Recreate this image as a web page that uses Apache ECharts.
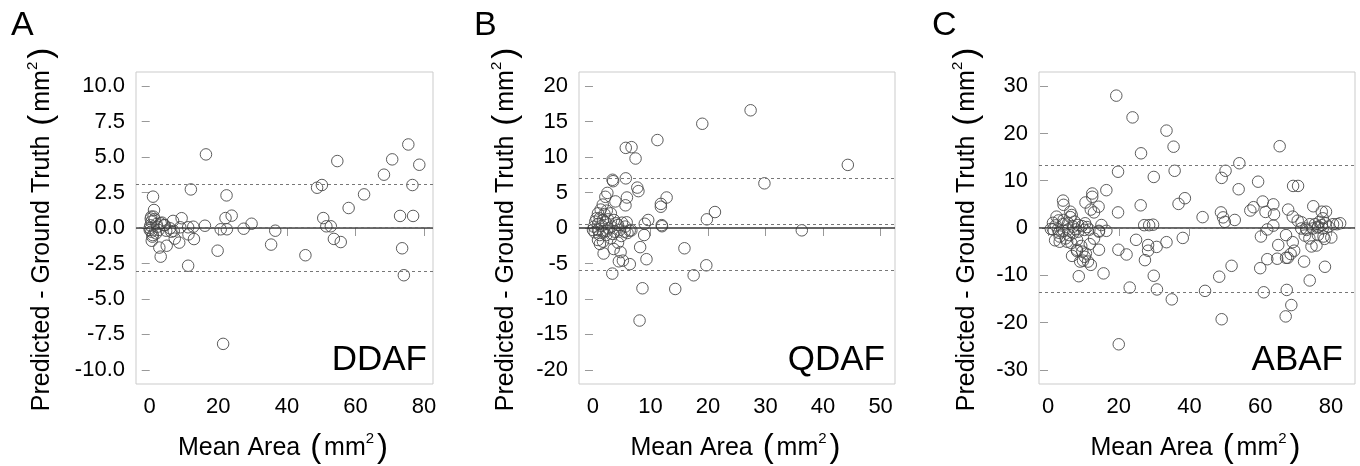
<!DOCTYPE html>
<html>
<head>
<meta charset="utf-8">
<script src="https://cdn.jsdelivr.net/npm/echarts@6/dist/echarts.min.js"></script>
<style>
  html, body { margin: 0; padding: 0; background: #fff; }
  #main { width: 1360px; height: 466px; }
</style>
</head>
<body>
<div id="main"></div>
<script>
// Bland-Altman style points: [mean area, predicted - ground truth]
var ddafPoints = [
  [0.0, 0.0], [0.2, 0.19], [0.0, -0.14], [0.3, 0.66], [0.47, 0.8], [0.5, 0.45], [0.6, -0.9],
  [0.47, -0.26], [0.77, -0.61], [0.9, -0.5], [0.96, 2.21], [1.1, 0.8], [1.25, 1.27], [1.45, 0.61],
  [1.85, -0.38], [2.0, 0.28], [2.2, 0.09], [2.6, -0.14], [2.8, -1.38], [3.2, 0.33], [3.2, -2.02],
  [3.6, 0.38], [4.2, 0.21], [4.4, 0.19], [4.8, -0.19], [4.95, -1.25], [5.9, -0.02], [6.3, -0.26],
  [6.8, 0.5], [7.0, -0.21], [7.3, -0.75], [8.6, -1.03], [8.9, 0.05], [9.3, 0.69], [11.2, 0.05],
  [11.3, -0.45], [11.2, -2.66], [12.0, 2.72], [12.7, 0.09], [12.9, -0.78], [16.1, 0.16], [16.4, 5.19],
  [19.8, -1.6], [20.7, -0.09], [21.4, -8.17], [22.1, 0.7], [22.4, 2.3], [22.5, -0.09], [23.9, 0.87],
  [27.4, -0.05], [29.7, 0.3], [35.4, -1.17], [36.6, -0.19], [45.4, -1.92], [48.8, 2.84], [50.2, 3.03],
  [50.6, 0.7], [51.5, 0.12], [52.8, 0.12], [53.7, -0.77], [54.7, 4.72], [55.7, -0.99], [58.0, 1.41],
  [62.5, 2.37], [68.3, 3.76], [70.7, 4.84], [73.0, 0.85], [73.6, -1.43], [74.1, -3.33], [75.4, 5.89],
  [76.6, 3.03], [76.8, 0.85], [78.6, 4.46]
];

var qdafPoints = [
  [27.4, 16.6], [19.0, 14.7], [11.2, 12.4], [5.7, 11.3], [6.7, 11.4], [7.4, 9.8], [44.3, 8.9],
  [3.4, 6.8], [3.5, 6.6], [5.7, 7.0], [29.8, 6.3], [7.7, 5.7], [7.9, 5.2], [2.5, 4.95], [2.15, 4.4],
  [5.9, 4.3], [12.8, 4.3], [3.9, 3.75], [11.8, 3.4], [11.8, 3.0], [5.65, 3.2], [1.7, 3.3], [1.34, 2.6],
  [2.4, 2.45], [0.87, 2.07], [2.0, 1.97], [3.1, 2.07], [21.2, 2.25], [19.8, 1.22], [9.6, 1.13],
  [9.0, 0.6], [5.86, 0.8], [11.95, 0.4], [12.0, 0.25], [36.3, -0.33], [6.67, -0.33], [8.9, -0.99],
  [8.2, -2.7], [15.9, -2.86], [9.3, -4.4], [4.8, -3.4], [4.5, -4.7], [5.2, -4.6], [6.4, -5.1],
  [19.7, -5.26], [17.5, -6.67], [3.36, -6.43], [8.6, -8.5], [14.3, -8.6], [8.1, -13.05], [1.85, -3.6],
  [3.6, -2.96], [1.2, -2.25], [0.6, 1.36], [1.17, 1.36], [1.74, 1.13], [2.6, 1.22], [3.65, 1.13],
  [4.07, 0.66], [5.04, 0.75], [0.17, 0.19], [0.9, 0.57], [2.15, 0.8], [3.2, 0.19], [4.35, 0.42],
  [0.0, -0.28], [0.87, -0.28], [1.74, -0.52], [2.73, -0.05], [3.77, -0.52], [4.64, -0.28], [5.5, -0.52],
  [6.38, -0.38], [1.17, -0.99], [2.33, -0.99], [3.48, -0.85], [4.94, -1.13], [0.87, -1.69],
  [1.74, -1.92], [3.08, -1.46], [4.35, -2.07], [0.4, 0.9], [1.5, 0.3], [2.4, -0.4], [5.6, 0.2],
  [0.3, -0.6], [6.0, -0.7]
];

var abafPoints = [
  [19.3, 28.0], [23.9, 23.4], [33.5, 20.6], [35.5, 17.2], [65.5, 17.3], [26.3, 15.8], [54.1, 13.7],
  [19.8, 11.9], [35.8, 12.1], [50.2, 12.1], [49.1, 10.6], [29.9, 10.8], [59.4, 9.8], [69.3, 8.9],
  [70.7, 8.9], [16.5, 8.0], [53.9, 8.2], [12.5, 7.3], [12.5, 6.6], [38.7, 6.3], [36.9, 5.1], [60.7, 5.6],
  [10.6, 5.4], [63.7, 5.0], [75.0, 4.6], [58.1, 4.4], [57.2, 3.7], [26.2, 4.8], [14.3, 4.5], [12.1, 3.9],
  [13.0, 3.3], [67.9, 3.9], [61.5, 3.4], [63.9, 2.9], [48.9, 3.3], [49.5, 2.25], [50.0, 1.3], [19.8, 3.3],
  [43.7, 2.3], [52.8, 1.7], [69.2, 2.4], [70.6, 1.55], [15.1, 0.63], [27.2, 0.6], [28.6, 0.6], [29.7, 0.7],
  [63.7, 0.5], [62.0, -0.3], [16.5, -0.6], [38.1, -2.1], [24.9, -2.5], [60.2, -1.8], [33.5, -3.0],
  [28.3, -3.6], [28.3, -4.8], [30.7, -4.0], [65.1, -3.6], [67.3, -1.5], [69.2, -3.0], [69.6, -4.8],
  [68.6, -5.5], [14.4, -4.6], [19.9, -4.6], [22.2, -5.6], [27.4, -6.8], [62.0, -6.6], [64.8, -6.5],
  [67.3, -6.3], [67.8, -6.3], [72.4, -7.1], [60.0, -8.5], [51.9, -8.0], [78.3, -8.2], [15.7, -9.6],
  [8.7, -10.2], [29.9, -10.1], [48.4, -10.3], [74.0, -11.1], [23.1, -12.6], [30.8, -13.0], [44.4, -13.3],
  [61.0, -13.6], [67.5, -13.1], [35.0, -15.1], [68.8, -16.3], [67.2, -18.7], [49.1, -19.3], [20.0, -24.6],
  [9.4, -3.8], [9.9, -6.9], [9.1, -7.1], [12.1, -7.8], [11.3, -7.1], [10.4, -6.1], [10.7, -5.4],
  [6.8, -5.9], [8.2, -4.6], [11.8, -3.4], [13.0, -2.25], [14.4, -0.6], [4.25, 5.8], [4.4, 4.9],
  [1.4, 1.1], [2.2, 0.56], [1.4, -0.28], [2.8, -0.28], [3.1, -1.0], [3.3, -1.8], [3.3, -2.9], [4.4, 1.7],
  [4.2, 0.8], [4.4, -0.56], [5.0, -2.2], [5.4, -2.9], [6.3, 3.45], [6.7, 2.75], [6.3, 2.3], [5.7, 1.0],
  [7.1, 0.28], [7.1, -1.1], [6.6, -3.2], [7.55, 1.34], [8.5, 0.63], [8.5, -0.77], [8.2, -2.5],
  [8.2, -4.9], [9.7, -5.0], [10.5, 1.0], [11.0, 0.2], [11.7, -0.35], [9.6, 0.4], [14.4, -0.77],
  [2.4, 2.4], [5.7, -0.3], [3.0, 1.6], [0.8, -0.2], [2.0, -2.6], [6.0, -1.5], [7.8, -0.3], [10.3, -0.4],
  [77.4, 3.45], [78.6, 3.45], [77.7, 2.05], [71.7, 1.2], [74.0, 0.8], [75.5, 0.8], [76.7, 1.3],
  [77.4, 0.6], [78.4, 1.0], [79.3, 0.3], [80.6, 0.8], [81.7, 0.8], [82.6, 1.0], [71.6, -0.1],
  [73.0, -0.1], [74.9, -0.1], [76.3, 0.1], [77.7, -0.1], [72.6, -1.6], [73.9, -2.2], [76.3, -1.5],
  [77.9, -1.8], [78.2, -2.3], [80.1, -2.0], [74.5, -3.9], [75.9, -3.7], [73.1, -0.4], [76.4, 0.3]
];

// mean difference and limits of agreement: [mean, upper, lower]
var ddafLimits = [0.05, 3.12, -3.03];
var qdafLimits = [0.5, 6.95, -5.95];
var abafLimits = [-0.15, 13.2, -13.5];

var ddafXTicks = [0, 20, 40, 60, 80];
var ddafYTicks = [-10, -7.5, -5, -2.5, 0, 2.5, 5, 7.5, 10];
var qdafXTicks = [0, 10, 20, 30, 40, 50];
var qdafYTicks = [-20, -15, -10, -5, 0, 5, 10, 15, 20];
var abafXTicks = [0, 20, 40, 60, 80];
var abafYTicks = [-30, -20, -10, 0, 10, 20, 30];

var FONT = 'Liberation Sans, Arial, Helvetica, sans-serif';

var nameRich = {
  t: { fontSize: 25, fontFamily: FONT, color: '#000', lineHeight: 34 },
  p: { fontSize: 33, fontFamily: FONT, color: '#000', lineHeight: 34, padding: [0, 3, 0, 3] },
  s: { fontSize: 15, fontFamily: FONT, color: '#000', lineHeight: 34, verticalAlign: 'top', padding: [0, 0, 14, 0] }
};
var yName = '{t|Predicted - Ground Truth }{p|(}{t|mm}{s|2}{p|)}';
var xName = '{t|Mean Area }{p|(}{t|mm}{s|2}{p|)}';

var grids = [
  { left: 136, top: 72, width: 297, height: 312 },
  { left: 579, top: 72, width: 316, height: 312 },
  { left: 1039, top: 72, width: 316, height: 312 }
];

function makeX(i, min, max, ticks) {
  return {
    type: 'value', gridIndex: i, min: min, max: max,
    name: xName, nameLocation: 'middle', nameGap: 47,
    nameTextStyle: { rich: nameRich },
    axisLine: { show: false },
    axisTick: { show: true, length: 8, customValues: ticks, lineStyle: { color: '#999', width: 1 } },
    axisLabel: { customValues: ticks, fontSize: 22, fontFamily: FONT, color: '#000', margin: 12 },
    splitLine: { show: false }
  };
}

function makeY(i, min, max, ticks, gap, digits) {
  return {
    type: 'value', gridIndex: i, min: min, max: max,
    name: yName, nameLocation: 'middle', nameGap: gap,
    nameTextStyle: { rich: nameRich },
    axisLine: { show: false },
    axisTick: { show: true, length: 8, customValues: ticks, lineStyle: { color: '#999', width: 1 } },
    axisLabel: {
      customValues: ticks, fontSize: 22, fontFamily: FONT, color: '#000', margin: 11,
      formatter: function (v) { return digits ? v.toFixed(digits) : String(v); }
    },
    splitLine: { show: false }
  };
}

function makeSeries(i, points, limits) {
  var dash = { color: '#777', width: 1, type: [3, 3] };
  return {
    type: 'scatter', xAxisIndex: i, yAxisIndex: i,
    data: points,
    symbol: 'circle', symbolSize: 11.5,
    itemStyle: { color: 'rgba(255,255,255,0)', borderColor: '#4a4a4a', borderWidth: 0.9, opacity: 1 },
    markLine: {
      silent: true, symbol: ['none', 'none'], label: { show: false },
      data: [
        { yAxis: 0, lineStyle: { color: '#333', width: 1.5, type: 'solid' } },
        { yAxis: limits[0], lineStyle: dash },
        { yAxis: limits[1], lineStyle: dash },
        { yAxis: limits[2], lineStyle: dash }
      ]
    }
  };
}

function letter(txt, x) {
  return { type: 'text', left: x, top: 9, style: { text: txt, font: '34px ' + FONT, fill: '#000' } };
}
function tag(txt, x) {
  return { type: 'text', x: x, y: 360.5, style: { text: txt, font: '35px ' + FONT, fill: '#000', align: 'right', verticalAlign: 'middle' } };
}

var chart = echarts.init(document.getElementById('main'));
chart.setOption({
  animation: false,
  backgroundColor: '#fff',
  grid: grids.map(function (g) {
    return Object.assign({
      show: true, borderColor: '#cbcbcb', borderWidth: 1, backgroundColor: 'transparent',
      containLabel: false, outerBoundsMode: 'none'
    }, g);
  }),
  xAxis: [
    makeX(0, -4, 82.6, ddafXTicks),
    makeX(1, -2.43, 52.5, qdafXTicks),
    makeX(2, -2.55, 86.8, abafXTicks)
  ],
  yAxis: [
    makeY(0, -11, 11, ddafYTicks, 77, 1),
    makeY(1, -22, 22, qdafYTicks, 56, 0),
    makeY(2, -33, 33, abafYTicks, 55, 0)
  ],
  series: [
    makeSeries(0, ddafPoints, ddafLimits),
    makeSeries(1, qdafPoints, qdafLimits),
    makeSeries(2, abafPoints, abafLimits)
  ],
  graphic: [
    letter('A', 11), letter('B', 474), letter('C', 932),
    tag('DDAF', 427), tag('QDAF', 885), tag('ABAF', 1343)
  ]
});
</script>
</body>
</html>
